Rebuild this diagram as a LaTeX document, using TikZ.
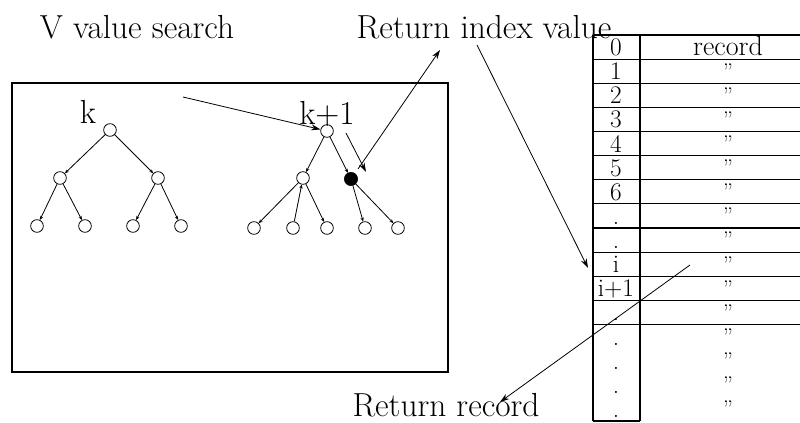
\documentclass[tikz,border=0pt]{standalone}
\usetikzlibrary{arrows.meta}
\begin{document}
\begin{tikzpicture}[x=0.75pt,y=-0.75pt,
  tn/.style={circle,draw,inner sep=0pt,minimum size=9.5pt,line width=0.6pt},
  bn/.style={circle,draw,fill=black,inner sep=0pt,minimum size=10pt},
  lbl/.style={font=\fontsize{25}{29}\selectfont,inner sep=0pt},
  cell/.style={font=\fontsize{19}{22}\selectfont,inner sep=0pt,text height=9.5pt,text depth=0pt},
  quot/.style={font=\fontsize{17}{20}\selectfont,inner sep=0pt},
  treeedge/.style={-{Stealth[length=3pt,width=2.5pt]},line width=0.6pt},
  ptr/.style={-{Stealth[length=7pt,width=4.5pt]},line width=0.6pt},
  rule/.style={line width=0.8pt}]
\useasboundingbox (0,0) rectangle (800,423);
% titles
\node[lbl] (vsearch) at (137,27) {V value search};
\node[lbl] (retidx) at (484,27) {Return index value};
\node[lbl] (retrec) at (446,405) {Return record};
% main frame
\draw[rule] (12,83) rectangle (448,372);
% left tree
\node[lbl] (klab) at (88,112) {k};
\node[tn] (kr) at (110,130) {};
\node[tn] (ka) at (60,178) {};
\node[tn] (kb) at (158,178) {};
\node[tn] (l1) at (37,226) {};
\node[tn] (l2) at (85,226) {};
\node[tn] (l3) at (133,226) {};
\node[tn] (l4) at (181,226) {};
\draw[treeedge] (kr) -- (ka);
\draw[treeedge] (kr) -- (kb);
\draw[treeedge] (ka) -- (l1);
\draw[treeedge] (ka) -- (l2);
\draw[treeedge] (kb) -- (l3);
\draw[treeedge] (kb) -- (l4);
% right tree
\node[lbl] (k1lab) at (327,114) {k+1};
\node[tn] (k1r) at (327,131) {};
\node[tn] (m1) at (303,178) {};
\node[bn] (bk) at (351,179) {};
\node[tn] (n1) at (254,228) {};
\node[tn] (n2) at (293,228) {};
\node[tn] (n3) at (327,228) {};
\node[tn] (n4) at (365,228) {};
\node[tn] (n5) at (398,228) {};
\draw[treeedge] (k1r) -- (m1);
\draw[treeedge] (k1r) -- (bk);
\draw[treeedge] (m1) -- (n1);
\draw[treeedge] (n2) -- (m1);
\draw[treeedge] (m1) -- (n3);
\draw[treeedge] (bk) -- (n4);
\draw[treeedge] (bk) -- (n5);
% table
\def\rh{24.125}
\draw[rule] (593,35) -- (593,421);
\draw[rule] (640,35) -- (640,421);
\draw[rule] (593,421) -- (640,421);
\foreach \n in {0,...,12}{
  \draw[rule] (593,35+\n*\rh) -- (805,35+\n*\rh);
}
\foreach \lab [count=\n from 0] in {0,1,2,3,4,5,6,.,.,i,i+1,.,.,.,.,.}{
  \node[cell,anchor=base] (r\n) at (616,35+\n*\rh+0.85*\rh) {\lab};
}
\node[cell,anchor=base,font=\fontsize{21}{24}\selectfont] (c0) at (728,35+0.85*\rh) {record};
\foreach \n in {1,...,15}{
  \node[quot] (c\n) at (728,35+\n*\rh+0.5*\rh) {''};
}
% pointers
\coordinate (vsfrom) at (183,97);
\draw[ptr] (vsfrom) -- (k1r);
\coordinate (sfrom) at (346,133);
\coordinate (sto) at (366,172);
\draw[ptr] (sfrom) -- (sto);
\coordinate (upfrom) at (358,169);
\coordinate (upto) at (440,50);
\draw[ptr] (upfrom) -- (upto);
\coordinate (idxfrom) at (477,45);
\coordinate (idxto) at (588,268);
\draw[ptr] (idxfrom) -- (idxto);
\coordinate (recfrom) at (690,265);
\coordinate (recto) at (500,402);
\draw[ptr] (recfrom) -- (recto);
\end{tikzpicture}
\end{document}
